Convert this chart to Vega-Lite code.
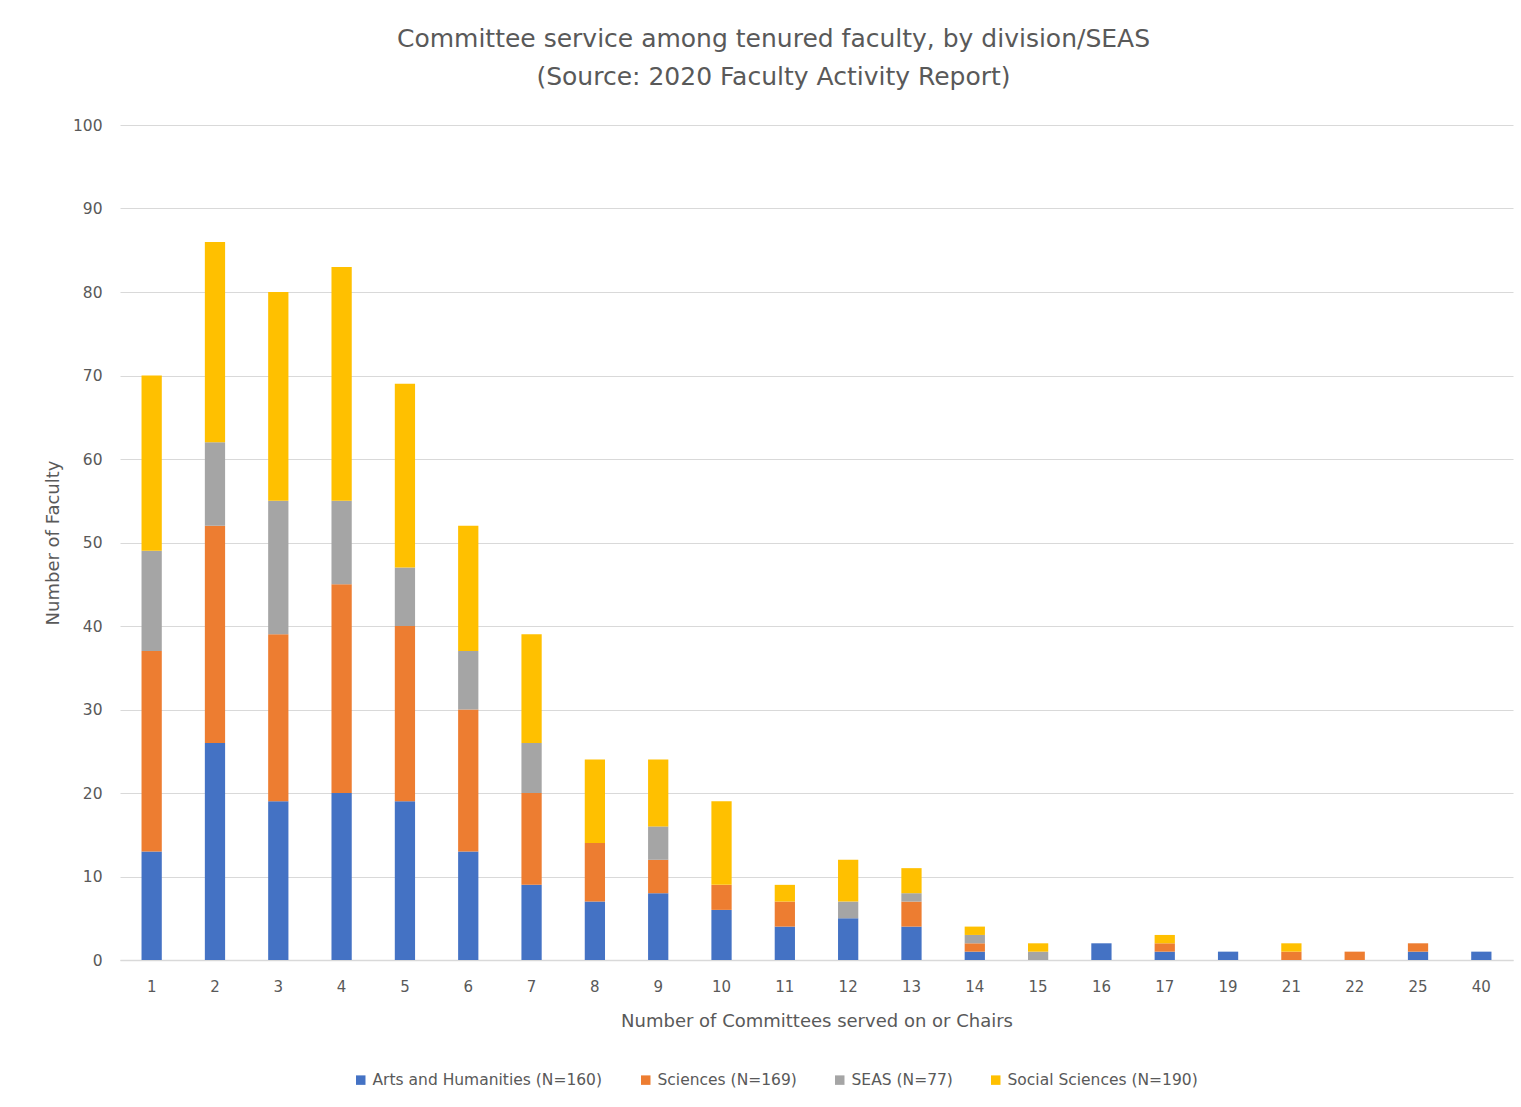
{
  "$schema": "https://vega.github.io/schema/vega-lite/v6.json",
  "autosize": {"type": "none"},
  "width": 1393,
  "height": 835,
  "padding": {"left": 120, "top": 125, "right": 8, "bottom": 147},
  "background": "white",
  "title": {
    "text": ["Committee service among tenured faculty, by division/SEAS", "(Source: 2020 Faculty Activity Report)"],
    "anchor": "middle",
    "dx": -43,
    "offset": 28,
    "font": "DejaVu Sans",
    "fontSize": 25,
    "fontWeight": "normal",
    "color": "#595959",
    "lineHeight": 38
  },
  "config": {
    "view": {"stroke": null},
    "axis": {"labelFont": "DejaVu Sans", "titleFont": "DejaVu Sans", "labelColor": "#595959", "titleColor": "#595959", "titleFontWeight": "normal"}
  },
  "datasets": {
    "divisions": [
      {"d": "Arts and Humanities (N=160)", "rank": 1},
      {"d": "Sciences (N=169)", "rank": 2},
      {"d": "SEAS (N=77)", "rank": 3},
      {"d": "Social Sciences (N=190)", "rank": 4}
    ]
  },
  "data": {"values": [
    {"c": "1", "d": "Arts and Humanities (N=160)", "n": 13},
    {"c": "1", "d": "Sciences (N=169)", "n": 24},
    {"c": "1", "d": "SEAS (N=77)", "n": 12},
    {"c": "1", "d": "Social Sciences (N=190)", "n": 21},
    {"c": "2", "d": "Arts and Humanities (N=160)", "n": 26},
    {"c": "2", "d": "Sciences (N=169)", "n": 26},
    {"c": "2", "d": "SEAS (N=77)", "n": 10},
    {"c": "2", "d": "Social Sciences (N=190)", "n": 24},
    {"c": "3", "d": "Arts and Humanities (N=160)", "n": 19},
    {"c": "3", "d": "Sciences (N=169)", "n": 20},
    {"c": "3", "d": "SEAS (N=77)", "n": 16},
    {"c": "3", "d": "Social Sciences (N=190)", "n": 25},
    {"c": "4", "d": "Arts and Humanities (N=160)", "n": 20},
    {"c": "4", "d": "Sciences (N=169)", "n": 25},
    {"c": "4", "d": "SEAS (N=77)", "n": 10},
    {"c": "4", "d": "Social Sciences (N=190)", "n": 28},
    {"c": "5", "d": "Arts and Humanities (N=160)", "n": 19},
    {"c": "5", "d": "Sciences (N=169)", "n": 21},
    {"c": "5", "d": "SEAS (N=77)", "n": 7},
    {"c": "5", "d": "Social Sciences (N=190)", "n": 22},
    {"c": "6", "d": "Arts and Humanities (N=160)", "n": 13},
    {"c": "6", "d": "Sciences (N=169)", "n": 17},
    {"c": "6", "d": "SEAS (N=77)", "n": 7},
    {"c": "6", "d": "Social Sciences (N=190)", "n": 15},
    {"c": "7", "d": "Arts and Humanities (N=160)", "n": 9},
    {"c": "7", "d": "Sciences (N=169)", "n": 11},
    {"c": "7", "d": "SEAS (N=77)", "n": 6},
    {"c": "7", "d": "Social Sciences (N=190)", "n": 13},
    {"c": "8", "d": "Arts and Humanities (N=160)", "n": 7},
    {"c": "8", "d": "Sciences (N=169)", "n": 7},
    {"c": "8", "d": "Social Sciences (N=190)", "n": 10},
    {"c": "9", "d": "Arts and Humanities (N=160)", "n": 8},
    {"c": "9", "d": "Sciences (N=169)", "n": 4},
    {"c": "9", "d": "SEAS (N=77)", "n": 4},
    {"c": "9", "d": "Social Sciences (N=190)", "n": 8},
    {"c": "10", "d": "Arts and Humanities (N=160)", "n": 6},
    {"c": "10", "d": "Sciences (N=169)", "n": 3},
    {"c": "10", "d": "Social Sciences (N=190)", "n": 10},
    {"c": "11", "d": "Arts and Humanities (N=160)", "n": 4},
    {"c": "11", "d": "Sciences (N=169)", "n": 3},
    {"c": "11", "d": "Social Sciences (N=190)", "n": 2},
    {"c": "12", "d": "Arts and Humanities (N=160)", "n": 5},
    {"c": "12", "d": "SEAS (N=77)", "n": 2},
    {"c": "12", "d": "Social Sciences (N=190)", "n": 5},
    {"c": "13", "d": "Arts and Humanities (N=160)", "n": 4},
    {"c": "13", "d": "Sciences (N=169)", "n": 3},
    {"c": "13", "d": "SEAS (N=77)", "n": 1},
    {"c": "13", "d": "Social Sciences (N=190)", "n": 3},
    {"c": "14", "d": "Arts and Humanities (N=160)", "n": 1},
    {"c": "14", "d": "Sciences (N=169)", "n": 1},
    {"c": "14", "d": "SEAS (N=77)", "n": 1},
    {"c": "14", "d": "Social Sciences (N=190)", "n": 1},
    {"c": "15", "d": "SEAS (N=77)", "n": 1},
    {"c": "15", "d": "Social Sciences (N=190)", "n": 1},
    {"c": "16", "d": "Arts and Humanities (N=160)", "n": 2},
    {"c": "17", "d": "Arts and Humanities (N=160)", "n": 1},
    {"c": "17", "d": "Sciences (N=169)", "n": 1},
    {"c": "17", "d": "Social Sciences (N=190)", "n": 1},
    {"c": "19", "d": "Arts and Humanities (N=160)", "n": 1},
    {"c": "21", "d": "Sciences (N=169)", "n": 1},
    {"c": "21", "d": "Social Sciences (N=190)", "n": 1},
    {"c": "22", "d": "Sciences (N=169)", "n": 1},
    {"c": "25", "d": "Arts and Humanities (N=160)", "n": 1},
    {"c": "25", "d": "Sciences (N=169)", "n": 1},
    {"c": "40", "d": "Arts and Humanities (N=160)", "n": 1}
  ]},
  "transform": [
    {"lookup": "d", "from": {"data": {"name": "divisions"}, "key": "d", "fields": ["rank"]}}
  ],
  "mark": {"type": "bar"},
  "encoding": {
    "x": {
      "field": "c", "type": "ordinal",
      "sort": ["1","2","3","4","5","6","7","8","9","10","11","12","13","14","15","16","17","19","21","22","25","40"],
      "scale": {"paddingInner": 0.68, "paddingOuter": 0.34},
      "axis": {"title": "Number of Committees served on or Chairs", "labelAngle": 0, "ticks": false, "domainColor": "#d9d9d9", "domainWidth": 1.5, "labelFontSize": 15, "labelPadding": 19, "titleFontSize": 18, "titlePadding": 18}
    },
    "y": {
      "field": "n", "type": "quantitative", "aggregate": "sum",
      "scale": {"domain": [0, 100]},
      "axis": {"title": "Number of Faculty", "values": [0,10,20,30,40,50,60,70,80,90,100], "labelOverlap": false, "ticks": false, "domain": false, "gridColor": "#d9d9d9", "gridWidth": 1.2, "labelFontSize": 15.5, "labelPadding": 18, "titleFontSize": 18, "titlePadding": 10}
    },
    "order": {"field": "rank", "type": "quantitative", "sort": "ascending"},
    "color": {
      "field": "d", "type": "nominal",
      "scale": {"domain": ["Arts and Humanities (N=160)", "Sciences (N=169)", "SEAS (N=77)", "Social Sciences (N=190)"], "range": ["#4472C4", "#ED7D31", "#A5A5A5", "#FFC000"]},
      "legend": {"title": null, "orient": "none", "direction": "horizontal", "legendX": 233, "legendY": 947, "symbolType": "square", "symbolSize": 90, "symbolStrokeWidth": 0, "labelFont": "DejaVu Sans", "labelFontSize": 15.5, "labelColor": "#595959", "labelLimit": 0, "columnPadding": 35, "labelOffset": 4}
    }
  }
}
